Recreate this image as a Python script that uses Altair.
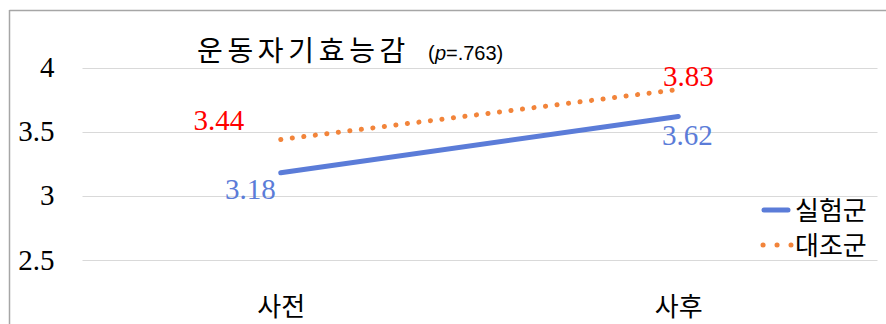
import altair as alt
import pandas as pd

# Mean self-efficacy scores, pre/post, for the two groups
times = ["사전", "사후"]
groups = ["실험군", "대조군"]
exp_scores = [3.18, 3.62]
ctrl_scores = [3.44, 3.83]
y_ticks = [2.5, 3, 3.5, 4]
title_text = "운동자기효능감"
p_value = "=.763)"

df = pd.DataFrame({
    "time": times * 2,
    "group": [groups[0]] * 2 + [groups[1]] * 2,
    "score": exp_scores + ctrl_scores,
})
one = pd.DataFrame({"k": [0]})

KR = "Noto Sans CJK KR"
SERIF = "Liberation Serif"
BLUE = "#5B7CD8"
ORANGE = "#F2843A"
RED = "#FF0000"
FRAME = "#A6A6A6"

x = alt.X(
    "time:N", sort=times,
    scale=alt.Scale(type="point", padding=0.5),
    axis=alt.Axis(title=None, labelAngle=0, labelFont=KR, labelFontSize=26,
                  labelColor="#000", labelPadding=34, ticks=False, tickSize=0,
                  domain=False, grid=False),
)
y = alt.Y(
    "score:Q",
    scale=alt.Scale(domain=[2.5, 4.45], nice=False, zero=False),
    axis=alt.Axis(title=None, values=y_ticks, format="~g", labelFont=SERIF,
                  labelFontSize=29, labelColor="#000", labelPadding=28,
                  ticks=False, tickSize=0, domain=False, grid=True,
                  gridColor="#D9D9D9", gridWidth=1.2),
)

base = alt.Chart(df).encode(x=x, y=y)

exp_line = base.transform_filter(alt.datum.group == groups[0]).mark_line(
    color=BLUE, strokeWidth=5, strokeCap="round")
ctrl_line = base.transform_filter(alt.datum.group == groups[1]).mark_line(
    color=ORANGE, strokeWidth=5, strokeCap="round", strokeDash=[0.1, 11.5])


def value_label(group, time, color, align, dx, dy):
    return base.transform_filter(
        (alt.datum.group == group) & (alt.datum.time == time)
    ).mark_text(font=SERIF, fontSize=29, color=color, align=align,
                baseline="alphabetic", dx=dx, dy=dy
    ).encode(text=alt.Text("score:Q", format=".2f"))


labels = [
    value_label(groups[0], times[0], BLUE, "right", -5, 26),
    value_label(groups[0], times[1], BLUE, "center", 9, 29),
    value_label(groups[1], times[0], RED, "center", -62, -9),
    value_label(groups[1], times[1], RED, "center", 10, -3),
]

# In-plot title with p-value
title = alt.Chart(one).mark_text(
    text="\u2006".join(title_text), font=KR, fontSize=28, color="#000",
    align="left", baseline="alphabetic",
).encode(x=alt.value(115), y=alt.value(51))
p_open = alt.Chart(one).mark_text(
    text="(", font="Liberation Sans", fontSize=20, color="#000",
    align="left", baseline="alphabetic",
).encode(x=alt.value(346), y=alt.value(50))
p_italic = alt.Chart(one).mark_text(
    text="p", font="Liberation Sans", fontSize=20, fontStyle="italic",
    color="#000", align="left", baseline="alphabetic",
).encode(x=alt.value(353), y=alt.value(50))
p_rest = alt.Chart(one).mark_text(
    text=p_value, font="Liberation Sans", fontSize=20, color="#000",
    align="left", baseline="alphabetic",
).encode(x=alt.value(364), y=alt.value(50))

# Legend drawn by hand so the dotted sample keeps round dots
leg_exp = alt.Chart(one).mark_rule(color=BLUE, strokeWidth=5, strokeCap="round").encode(
    x=alt.value(682), x2=alt.value(706), y=alt.value(200))
leg_ctrl = alt.Chart(one).mark_rule(
    color=ORANGE, strokeWidth=5, strokeCap="round", strokeDash=[0.1, 13.9]
).encode(x=alt.value(681), x2=alt.value(709), y=alt.value(235))
leg_exp_txt = alt.Chart(one).mark_text(
    text=groups[0], font=KR, fontSize=26, color="#000", align="left", baseline="middle"
).encode(x=alt.value(713), y=alt.value(202))
leg_ctrl_txt = alt.Chart(one).mark_text(
    text=groups[1], font=KR, fontSize=26, color="#000", align="left", baseline="middle"
).encode(x=alt.value(713), y=alt.value(237))

# Outer chart frame (left and top edges)
frame_left = alt.Chart(one).mark_rule(color=FRAME, strokeWidth=1.5).encode(
    x=alt.value(-72.5), y=alt.value(0), y2=alt.value(330))
frame_top = alt.Chart(one).mark_rule(color=FRAME, strokeWidth=1.5).encode(
    x=alt.value(-72.5), x2=alt.value(820), y=alt.value(0.5))

chart = alt.layer(
    ctrl_line, exp_line, *labels,
    title, p_open, p_italic, p_rest,
    leg_exp, leg_ctrl, leg_exp_txt, leg_ctrl_txt,
    frame_left, frame_top,
).properties(
    width=795, height=250,
    padding={"left": 82, "top": 10, "right": 9, "bottom": 64},
    autosize=alt.AutoSizeParams(type="none"),
    background="white",
).configure_view(stroke=None)

chart.save("out.html", embed_options={"renderer": "svg", "actions": False})
